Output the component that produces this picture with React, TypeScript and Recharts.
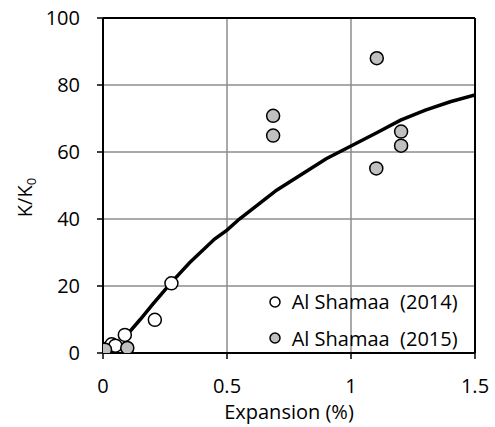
import React from 'react';
import {
  ComposedChart,
  Line,
  Scatter,
  XAxis,
  YAxis,
  CartesianGrid,
  ReferenceLine,
  Legend,
} from 'recharts';

// Model curve: normalised permeability vs. expansion
const modelExpansion = [0.08, 0.15, 0.2, 0.275, 0.35, 0.45, 0.5, 0.55, 0.62, 0.7, 0.8, 0.9, 1.0, 1.1, 1.2, 1.3, 1.4, 1.5];
const modelK = [4, 10, 14.5, 21, 27, 34, 36.7, 40, 44, 48.6, 53.3, 58, 61.8, 65.6, 69.5, 72.5, 75, 77];

// Measurements, Al Shamaa (2014)
const shamaa2014Expansion = [0.01, 0.035, 0.05, 0.088, 0.209, 0.276];
const shamaa2014K = [1.2, 2.6, 2.2, 5.4, 9.9, 20.8];

// Measurements, Al Shamaa (2015)
const shamaa2015Expansion = [0.008, 0.098, 0.686, 0.686, 1.104, 1.102, 1.202, 1.202];
const shamaa2015K = [1.0, 1.5, 70.8, 64.9, 88, 55.1, 66.1, 61.9];

const xTicks = [0, 0.5, 1, 1.5];
const yTicks = [0, 20, 40, 60, 80, 100];

const legendLabels = ['Al Shamaa  (2014)', 'Al Shamaa  (2015)'];
const legendFills = ['#ffffff', '#c0c0c0'];

const zip = (xs: number[], ys: number[]) => xs.map((x, i) => ({ x, y: ys[i] }));

const modelData = zip(modelExpansion, modelK);
const data2014 = zip(shamaa2014Expansion, shamaa2014K);
const data2015 = zip(shamaa2015Expansion, shamaa2015K);

const FONT = '"Open Sans", sans-serif';

const marker = (fill: string) => (props: any) => (
  <circle cx={props.cx} cy={props.cy} r={6.5} fill={fill} stroke="#000" strokeWidth={1.5} />
);

const YTitle = (props: any) => {
  const vb = props.viewBox || { x: 0, y: 0, width: 0, height: 0 };
  const cx = vb.x + 32;
  const cy = vb.y + vb.height / 2 + 12;
  return (
    <text
      x={cx}
      y={cy}
      transform={`rotate(-90 ${cx} ${cy})`}
      textAnchor="middle"
      fontFamily={FONT}
      fontSize={20}
      fill="#000"
    >
      K/K
      <tspan fontSize={13} dy={4}>0</tspan>
    </text>
  );
};

const LegendBox = () => (
  <div style={{ fontFamily: FONT, fontSize: 20, color: '#000' }}>
    {legendLabels.map((label, i) => (
      <div key={label} style={{ display: 'flex', alignItems: 'center', height: 36.6, whiteSpace: 'pre' }}>
        <svg width={14} height={14} style={{ marginRight: 9.7 }}>
          <circle cx={7} cy={7} r={5} fill={legendFills[i]} stroke="#000" strokeWidth={1.5} />
        </svg>
        <span>{label}</span>
      </div>
    ))}
  </div>
);

export default function App() {
  return (
    <div style={{ position: 'absolute', left: 0, top: 0, background: '#fff' }}>
      <ComposedChart
        width={495}
        height={427}
        margin={{ top: 18, right: 20, bottom: 0, left: 0 }}
      >
        <CartesianGrid stroke="#8c8c8c" strokeWidth={1.5} />
        <XAxis
          type="number"
          dataKey="x"
          domain={[0, 1.5]}
          ticks={xTicks}
          height={74}
          axisLine={{ stroke: '#000', strokeWidth: 2 }}
          tickLine={{ stroke: '#000', strokeWidth: 1.5 }}
          tickSize={6}
          tickMargin={20}
          tick={{ fill: '#000', fontFamily: FONT, fontSize: 20 }}
          label={{
            value: 'Expansion (%)',
            position: 'insideBottom',
            offset: 8,
            fill: '#000',
            fontFamily: FONT,
            fontSize: 20,
          }}
          allowDataOverflow
        />
        <YAxis
          type="number"
          dataKey="y"
          domain={[0, 100]}
          ticks={yTicks}
          width={103}
          axisLine={{ stroke: '#000', strokeWidth: 2 }}
          tickLine={{ stroke: '#000', strokeWidth: 1.5 }}
          tickSize={6}
          tickMargin={17}
          tick={{ fill: '#000', fontFamily: FONT, fontSize: 20 }}
          label={<YTitle />}
          allowDataOverflow
        />
        <ReferenceLine y={100} stroke="#000" strokeWidth={2} />
        <ReferenceLine x={1.5} stroke="#000" strokeWidth={2} />
        <Line
          data={modelData}
          dataKey="y"
          type="linear"
          stroke="#000"
          strokeWidth={3.5}
          dot={false}
          activeDot={false}
          isAnimationActive={false}
          legendType="none"
        />
        <Scatter
          data={data2014}
          dataKey="y"
          shape={marker('#ffffff')}
          isAnimationActive={false}
        />
        <Scatter
          data={data2015}
          dataKey="y"
          shape={marker('#c0c0c0')}
          isAnimationActive={false}
        />
        <Legend
          layout="vertical"
          align="center"
          verticalAlign="middle"
          wrapperStyle={{ left: 268, top: 283.4, width: 'auto' }}
          content={<LegendBox />}
        />
      </ComposedChart>
    </div>
  );
}
